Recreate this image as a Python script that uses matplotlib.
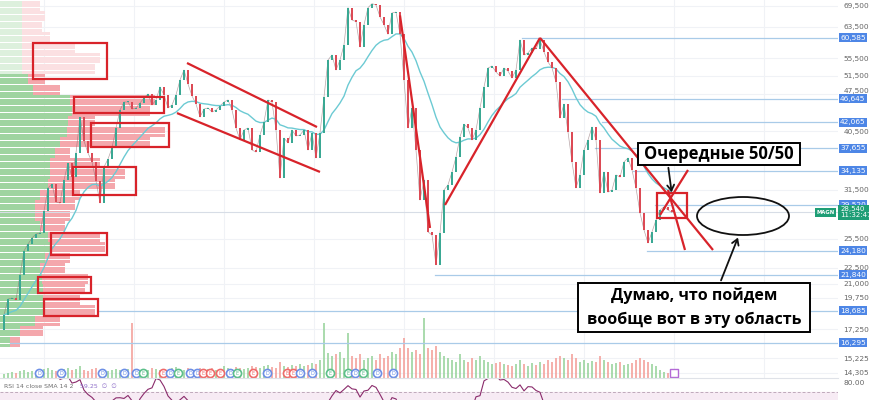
import numpy as np
import pandas as pd
import matplotlib
matplotlib.use("Agg")
import matplotlib.pyplot as plt
from matplotlib.patches import Rectangle, Ellipse, FancyArrowPatch
from matplotlib import transforms

# MAGN, one candle per ~week
first_open = 17200
closes = [18350, 19660, 19740, 19580, 21800, 24180, 24910, 25570, 26010, 26120,
          28730, 31720, 32270, 29860, 29730, 32830, 35330, 33260, 36880, 43070,
          38840, 36880, 35480, 32690, 29730, 34730, 35940, 37680, 41080, 44390,
          45950, 45950, 44580, 44780, 45750, 46750, 47570, 45360, 46350, 49020,
          47370, 44780, 45360, 47370, 50520, 52740, 49660, 47170, 45550, 43070,
          44580, 44780, 44010, 44390, 45160, 45950, 46350, 44390, 41080, 39010,
          40730, 41080, 37360, 37040, 39860, 42150, 46350, 45950, 40730, 33110,
          39350, 38520, 40730, 39690, 39860, 40730, 37360, 40210, 36100, 40210,
          46950, 55070, 56270, 52740, 55070, 58780, 69000, 65430, 65000, 58250,
          64090, 69000, 70200, 69800, 66300, 64090, 61550, 67450, 67700, 61550,
          50520, 41080, 44780, 37360, 30120, 32830, 26250, 25900, 22770, 26120,
          31450, 32140, 33990, 36240, 39530, 41770, 41080, 39010, 40730, 44780,
          49020, 53200, 53660, 52290, 51410, 53200, 52500, 50960, 52740, 60030,
          56270, 56760, 57990, 57750, 60030, 57000, 54600, 53200, 50080, 42890,
          45550, 40380, 35480, 31720, 33550, 37360, 39010, 41260, 39010, 31040,
          33990, 31170, 31450, 33550, 33260, 35480, 36100, 34280, 31720, 28490,
          26470, 25030, 26250, 27630, 28850, 29240, 28850, 28540]

volumes = [4, 5, 6, 5, 7, 8, 6, 7, 6, 8,
           9, 10, 8, 7, 8, 9, 10, 8, 9, 12,
           8, 7, 9, 10, 8, 9, 7, 8, 9, 8,
           8, 9, 55, 8, 7, 9, 8, 10, 9, 8,
           9, 8, 10, 11, 9, 8, 10, 9, 8, 10,
           8, 9, 10, 8, 9, 12, 10, 9, 11, 10,
           9, 10, 12, 11, 10, 12, 13, 11, 10, 16,
           12, 11, 13, 12, 14, 12, 13, 15, 14, 18,
           55, 25, 22, 24, 26, 20, 45, 22, 20, 24,
           18, 20, 22, 18, 24, 20, 22, 26, 24, 30,
           40, 30, 26, 28, 24, 60, 30, 28, 32, 26,
           22, 20, 18, 16, 24, 18, 16, 20, 18, 22,
           18, 16, 14, 15, 16, 14, 13, 12, 14, 18,
           14, 12, 15, 13, 16, 14, 18, 16, 20, 22,
           20, 18, 24, 20, 16, 18, 15, 17, 16, 22,
           18, 16, 14, 15, 16, 13, 14, 15, 18, 20,
           18, 16, 14, 12, 8, 6, 5, 4]

# volume profile from top price bin to bottom one
prof_up = [22, 22, 22, 22, 22, 22, 22, 28, 33, 70, 72, 68, 67, 60, 55, 50, 50, 48,
           40, 35, 35, 40, 48, 50, 45, 40, 42, 43, 43, 43, 35, 20, 10, 0, 0, 0]
prof_total = [40, 45, 42, 50, 75, 100, 95, 45, 60, 155, 150, 95, 165, 150, 70, 100, 125, 115,
              80, 75, 70, 65, 100, 105, 70, 65, 88, 85, 80, 95, 60, 43, 20, 0, 0, 0]

levels = [60585, 46645, 42065, 37655, 34135, 29520, 24180, 21840, 18685, 16295]
level_from = [129.5, 139.5, 149.5, 147.75, 157.25, 162.75, 160.75, 107.75, 23.5, 1.5]
last_price = 28540

# red boxes: candle from, candle to, price low, price high
box_k0 = [7.25, 17.5, 21.75, 17.25, 11.75, 8.5, 10, 163.25]
box_k1 = [25.75, 40, 41.25, 33, 25.75, 21.75, 23.5, 170.75]
box_lo = [50740, 43810, 37840, 30780, 23760, 20180, 18270, 27870]
box_hi = [59270, 46950, 41960, 34730, 26120, 21620, 19660, 31040]

# red trend lines: (k0, p0, k1, p1)
trend_lines = [(45.75, 54360, 78.25, 41250),
               (43.25, 43810, 79, 33990),
               (99, 66730, 106.5, 26700),
               (110.25, 29480, 134, 60585),
               (134, 60585, 177.25, 24280),
               (171, 34280, 164, 28230),
               (166, 31450, 170.25, 24280)]

events_k = [8.75, 14.25, 24.5, 30, 33, 34.75, 39.75, 41.5, 43.5, 46.5, 48.25, 49.75, 51.5, 54,
            56.5, 58.25, 62.25, 65.75, 70.75, 72.25, 74, 77, 81.5, 86, 87.75, 89.75, 93.25, 97.25]
events_kind = "DDDDDGEDGDDEEEDGEDEEDDGGDGDD"

yticks = [69500, 63500, 55500, 51500, 47500, 40500, 31500, 25500, 22500, 21000,
          19750, 17250, 15225, 14305]

W, H = 870, 400
plot_w = 838
fig = plt.figure(figsize=(8.7, 4.0), dpi=100)
ax = fig.add_axes([0, 22 / H, plot_w / W, 378 / H])
rax = fig.add_axes([0, 0, plot_w / W, 22 / H])

n = len(closes)
k = np.arange(n)
opens = [first_open] + closes[:-1]
xlo, xhi = -1, plot_w / 4 - 1
ylo, yhi = 13985, 71320

ax.set_yscale("log")
ax.set_xlim(xlo, xhi)
ax.set_ylim(ylo, yhi)
ax.autoscale(False)

# grid
for t in yticks:
    ax.axhline(t, color="#f0f2f6", lw=0.8, zorder=0)
for xv in np.arange(10, xhi, 22.5):
    ax.axvline(xv, color="#f0f2f6", lw=0.8, zorder=0)

# volume profile on the left
x_ax_y_data = transforms.blended_transform_factory(ax.transAxes, ax.transData)
edges = np.geomspace(yhi, ylo, len(prof_total) + 1)
for i in range(len(prof_total)):
    top, bot = edges[i], edges[i + 1]
    pale = i < 7
    sub = np.geomspace(top, bot, 4)
    for j in range(3):
        lo_, hi_ = sub[j + 1], sub[j]
        hh = (hi_ / lo_) ** 0.8
        if prof_total[i] > 0:
            ax.add_patch(Rectangle((0, lo_), prof_total[i] / plot_w, lo_ * hh - lo_,
                                   transform=x_ax_y_data, lw=0,
                                   color="#fbe0e2" if pale else "#f4a7ac", zorder=1))
        if prof_up[i] > 0:
            ax.add_patch(Rectangle((0, lo_), prof_up[i] / plot_w, lo_ * hh - lo_,
                                   transform=x_ax_y_data, lw=0,
                                   color="#ddf0dd" if pale else "#9fd4a0", zorder=1))

# volume bars at the bottom
x_data_y_ax = transforms.blended_transform_factory(ax.transData, ax.transAxes)
for i in range(n):
    c = "#9dd5a0" if closes[i] >= opens[i] else "#f4a49e"
    ax.add_patch(Rectangle((k[i] - 0.28, 0), 0.56, volumes[i] / 378, transform=x_data_y_ax,
                           lw=0, color=c, alpha=0.85, zorder=1))

# horizontal levels
for lv, k0 in zip(levels, level_from):
    ax.plot([k0, xhi], [lv, lv], color="#a9cbe8", lw=0.9, zorder=2)
ax.axhline(last_price, color="#d7dde6", lw=0.8, zorder=1)

# candles
ups = [c >= o for c, o in zip(closes, opens)]
body_lo = [min(c, o) for c, o in zip(closes, opens)]
body_h = [max(abs(c - o), 0.006 * c) for c, o in zip(closes, opens)]
ax.plot(k, closes, color="#8a6a6e", lw=0.5, alpha=0.6, zorder=3)
ax.bar(k, body_h, bottom=body_lo, width=0.42,
       color=["#3aa893" if u else "#dc4a55" for u in ups], lw=0, zorder=4)

# moving average
ma = pd.Series(closes).ewm(span=18, adjust=False).mean()
ax.plot(k, ma, color="#6ccad3", lw=1.0, zorder=3)

# red drawings
for x0, p0, x1, p1 in trend_lines:
    ax.plot([x0, x1], [p0, p1], color="#d8232a", lw=1.6, zorder=5, solid_capstyle="butt")
for a, b, lo, hi in zip(box_k0, box_k1, box_lo, box_hi):
    ax.add_patch(Rectangle((a, lo), b - a, hi - lo, fill=False, ec="#d8232a", lw=1.6, zorder=5))

# event icons
colors = {"D": "#6d8fe6", "E": "#ef6a6a", "G": "#5cbf8a"}
for ek, kind in zip(events_k, events_kind):
    ax.scatter([ek], [0.013], s=34, marker="o", facecolor="white", edgecolor=colors[kind],
               lw=1.2, transform=x_data_y_ax, zorder=6, clip_on=False)
    ax.text(ek, 0.013, "D" if kind == "D" else "E", transform=x_data_y_ax, fontsize=3.5,
            color=colors[kind], ha="center", va="center", zorder=7)
ax.scatter([167.5], [0.013], s=30, marker="s", facecolor="white", edgecolor="#b36ad6",
           lw=1.0, transform=x_data_y_ax, zorder=6)

# right price axis
ax.yaxis.tick_right()
ax.set_yticks(yticks)
ax.set_yticklabels([f"{t:,}" for t in yticks])
ax.yaxis.set_minor_locator(matplotlib.ticker.NullLocator())
ax.tick_params(axis="y", length=0, pad=4, labelsize=5.3, labelcolor="#666666")
ax.set_xticks([])
for s in ax.spines.values():
    s.set_visible(False)
# 47,500 sits right above the 46,645 badge, lift it a bit
for lab, t in zip(ax.get_yticklabels(), yticks):
    if t == 47500:
        lab.set_verticalalignment("bottom")

badge_tr = transforms.blended_transform_factory(ax.transAxes, ax.transData)
for lv in levels:
    ax.text(1.0025, lv, f"{lv:,}", transform=badge_tr, fontsize=5.3, color="white",
            va="center", ha="left", clip_on=False, zorder=8,
            bbox=dict(boxstyle="square,pad=0.2", fc="#4d86e6", ec="none"))
ax.text(0.996, last_price, "MAGN", transform=badge_tr, fontsize=3.8, color="white",
        va="center", ha="right", clip_on=False, zorder=8, fontweight="bold",
        bbox=dict(boxstyle="square,pad=0.3", fc="#1e9e76", ec="none"))
ax.text(1.0025, last_price, f"{last_price:,}\n11:32:47", transform=badge_tr, fontsize=5.0,
        color="white", va="center", ha="left", clip_on=False, zorder=9, linespacing=1.0,
        bbox=dict(boxstyle="square,pad=0.25", fc="#1e9e76", ec="none"))

# RSI pane
s = pd.Series(closes)
d = s.diff()
gain = d.clip(lower=0).rolling(14).mean()
loss = (-d.clip(upper=0)).rolling(14).mean()
rsi = 100 - 100 / (1 + gain / loss)
rax.set_xlim(xlo, xhi)
rax.set_ylim(61.1, 85.5)
rax.axhspan(30, 70, color="#f7ebf4", zorder=0)
rax.axhline(70, color="#bfa9bb", lw=0.7, ls=(0, (3, 2)), zorder=1)
rax.plot(k, rsi, color="#8a2b6b", lw=0.8, zorder=2)
rax.yaxis.tick_right()
rax.set_yticks([80])
rax.set_yticklabels(["80.00"])
rax.tick_params(axis="y", length=0, pad=4, labelsize=5.3, labelcolor="#666666")
rax.set_xticks([])
for sp in rax.spines.values():
    sp.set_visible(False)
rax.spines["top"].set_visible(True)
rax.spines["top"].set_color("#dfe2e8")
rax.spines["top"].set_linewidth(0.8)
fig.text(4 / W, 1 - 386 / H, "RSI 14 close SMA 14 2", fontsize=4.5, color="#707070", va="center")
fig.text(80 / W, 1 - 386 / H, "59.25  \u2205  \u2205", fontsize=4.5, color="#8f6fc9", va="center")

# hand-drawn notes
def px(x, y):
    return x / W, 1 - y / H

fig.patches.append(Rectangle(px(638, 165), 162 / W, 22 / H, transform=fig.transFigure,
                             fc="white", ec="black", lw=1.4, zorder=10))
fig.text(*px(719, 154), "Очередные 50/50", fontsize=12, fontweight="bold",
         family=["Open Sans", "DejaVu Sans"], ha="center", va="center", zorder=11)
fig.patches.append(Rectangle(px(578, 332), 232 / W, 49 / H, transform=fig.transFigure,
                             fc="white", ec="black", lw=1.4, zorder=10))
fig.text(*px(694, 296), "Думаю, что пойдем", fontsize=11.5, fontweight="bold",
         family=["Open Sans", "DejaVu Sans"], ha="center", va="center", zorder=11)
fig.text(*px(694, 320), "вообще вот в эту область", fontsize=11.5, fontweight="bold",
         family=["Open Sans", "DejaVu Sans"], ha="center", va="center", zorder=11)
fig.patches.append(Ellipse(px(743, 216), 92 / W, 38 / H, transform=fig.transFigure,
                           fill=False, ec="#111111", lw=1.3, zorder=10))
for (x0, y0), (x1, y1) in [((668, 165), (672, 195)), ((720, 283), (739, 235))]:
    fig.patches.append(FancyArrowPatch(px(x0, y0), px(x1, y1), transform=fig.transFigure,
                                       arrowstyle="->,head_length=4,head_width=2.5",
                                       color="#111111", lw=1.3, zorder=10))

fig.savefig("out.png", dpi=100)
